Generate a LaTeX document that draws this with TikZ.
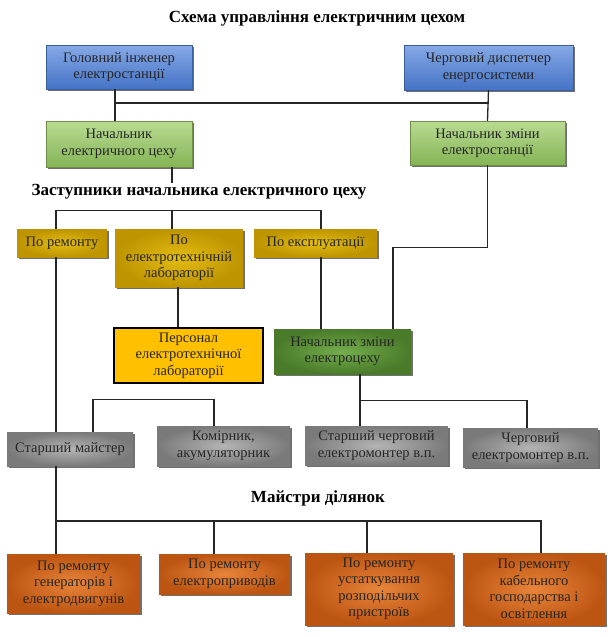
\documentclass[tikz,border=0pt]{standalone}
\usepackage{fontspec}
\setmainfont{Liberation Serif}
\usetikzlibrary{positioning,shadows}

\definecolor{chiefTop}{HTML}{86A9E6}
\definecolor{chiefBot}{HTML}{4573C6}
\definecolor{chiefLine}{HTML}{3A5F9E}
\definecolor{headTop}{HTML}{B9DB92}
\definecolor{headBot}{HTML}{84B455}
\definecolor{headLine}{HTML}{6E8F45}
\definecolor{goldIn}{HTML}{E2BC12}
\definecolor{goldOut}{HTML}{BE9400}
\definecolor{labYel}{HTML}{FFC000}
\definecolor{shiftIn}{HTML}{74AE4C}
\definecolor{shiftOut}{HTML}{4A7B2A}
\definecolor{greyIn}{HTML}{B4B4B4}
\definecolor{greyOut}{HTML}{7A7A7A}
\definecolor{rustIn}{HTML}{E8843A}
\definecolor{rustOut}{HTML}{BD5512}

\begin{document}
\begin{tikzpicture}[
    x=1pt, y=-1pt,
    box/.style={align=center,inner sep=1pt,text=black!85,font=\fontsize{14.5}{16.5}\selectfont,
      drop shadow={shadow xshift=1.5pt,shadow yshift=-2pt,fill=black!70,opacity=0.8}},
    chief/.style={box,top color=chiefTop,bottom color=chiefBot,draw=chiefLine},
    head/.style={box,top color=headTop,bottom color=headBot,draw=headLine},
    depty/.style={box,inner color=goldIn,outer color=goldOut},
    staff/.style={align=center,inner sep=1pt,text=black!85,font=\fontsize{14.5}{16.5}\selectfont,fill=labYel,draw=black,line width=1.2pt},
    shiftbox/.style={box,inner color=shiftIn,outer color=shiftOut},
    greybox/.style={box,inner color=greyIn,outer color=greyOut},
    rustbox/.style={box,inner color=rustIn,outer color=rustOut},
    caption/.style={font=\bfseries\fontsize{17}{20}\selectfont,inner sep=1pt},
    wire/.style={line width=1.3pt,black!85}
  ]
    \useasboundingbox (0,0) rectangle (614,637);

    % Headings
    \node[caption] (title) at (317,18) {Схема управління електричним цехом};
    \node[caption] (deps) at (199,192) {Заступники начальника електричного цеху};
    \node[caption] (masters) at (318,498) {Майстри ділянок};

    % Level 1: management
    \node[chief, minimum width=146pt, minimum height=44pt] (glav) at (119,67) {Головний інженер\\електростанції};
    \node[chief, minimum width=169pt, minimum height=45pt] (disp) at (488.5,67.5) {Черговий диспетчер\\енергосистеми};

    % Level 2: heads
    \node[head, minimum width=146pt, minimum height=46pt] (nach) at (119,144) {Начальник\\електричного цеху};
    \node[head, minimum width=155pt, minimum height=44pt] (nzs) at (487.5,143) {Начальник зміни\\електростанції};

    % Level 3: deputies
    \node[depty, minimum width=90pt, minimum height=28pt] (rem) at (62,243) {По ремонту};
    \node[depty, minimum width=128pt, minimum height=58pt] (lab) at (179,258) {По\\електротехнічній\\лабораторії};
    \node[depty, minimum width=123pt, minimum height=28pt] (expl) at (315.5,243) {По експлуатації};

    % Level 4
    \node[staff, minimum width=149pt, minimum height=55pt] (pers) at (188.5,355.5) {Персонал\\електротехнічної\\лабораторії};
    \node[shiftbox, minimum width=137pt, minimum height=45pt] (nze) at (342.5,351.5) {Начальник зміни\\електроцеху};

    % Level 5: staff
    \node[greybox, minimum width=126pt, minimum height=34pt] (stm) at (70,449) {Старший майстер};
    \node[greybox, minimum width=133pt, minimum height=40pt] (kom) at (223.5,446) {Комірник,\\акумуляторник};
    \node[greybox, minimum width=143pt, minimum height=39pt] (stch) at (376.5,445.5) {Старший черговий\\електромонтер в.п.};
    \node[greybox, minimum width=135pt, minimum height=39pt] (cherg) at (530.5,447.5) {Черговий\\електромонтер в.п.};

    % Level 6: section masters
    \node[rustbox, minimum width=133pt, minimum height=59pt] (gen) at (73.5,583.5) {По ремонту\\генераторів і\\електродвигунів};
    \node[rustbox, minimum width=131pt, minimum height=40pt] (drv) at (224.5,574) {По ремонту\\електроприводів};
    \node[rustbox, minimum width=148pt, minimum height=72pt] (swg) at (379,589) {По ремонту\\устаткування\\розподільчих\\пристроїв};
    \node[rustbox, minimum width=142pt, minimum height=72pt] (cab) at (534,589) {По ремонту\\кабельного\\господарства і\\освітлення};

    % Connectors
    \coordinate (bus) at (0,103);
    \coordinate (mbus) at (0,521);
    \draw[wire] ([xshift=-4pt]glav.south) -- ([xshift=-4pt]nach.north);
    \draw[wire] (disp.south) -- (nzs.north);
    \draw[wire] ([xshift=-4pt]glav.south |- bus) -- (disp.south |- bus);
    \draw[wire] ([xshift=53pt]nach.south) -- ([xshift=53pt]nach.south |- deps.north);
    \draw[wire] ([xshift=-6pt]rem.north) -- ++(0,-18) -| ([xshift=5.5pt]expl.north);
    \draw[wire] ([xshift=-7pt]lab.north) -- ++(0,-18);
    \draw[wire] ([xshift=-1pt]lab.south) -- ([xshift=-10.5pt]pers.north);
    \draw[wire] ([xshift=5.5pt]expl.south) -- ([xshift=5.5pt]expl.south |- nze.north);
    \draw[wire] (nzs.south) -- ++(0,82) -| ([xshift=50.5pt]nze.north);
    \draw[wire] ([xshift=-6pt]rem.south) -- ([xshift=-6pt]rem.south |- stm.north);
    \draw[wire] ([xshift=23pt]stm.north) -- ++(0,-32) -| ([xshift=-9.5pt]kom.north);
    \draw[wire] ([xshift=17.5pt]nze.south) -- ([xshift=-16.5pt]stch.north);
    \draw[wire] ([xshift=17.5pt]nze.south) ++(0,26) -| ([xshift=-3.5pt]cherg.north);
    \draw[wire] ([xshift=-14pt]stm.south) -- ([xshift=-14pt]stm.south |- gen.north);
    \draw[wire] ([xshift=-14pt]stm.south |- mbus) -| ([xshift=7pt]cab.north);
    \draw[wire] ([xshift=-10.5pt]drv.north) -- ([xshift=-10.5pt]drv.north |- mbus);
    \draw[wire] ([xshift=-12pt]swg.north) -- ([xshift=-12pt]swg.north |- mbus);
  \end{tikzpicture}
\end{document}
